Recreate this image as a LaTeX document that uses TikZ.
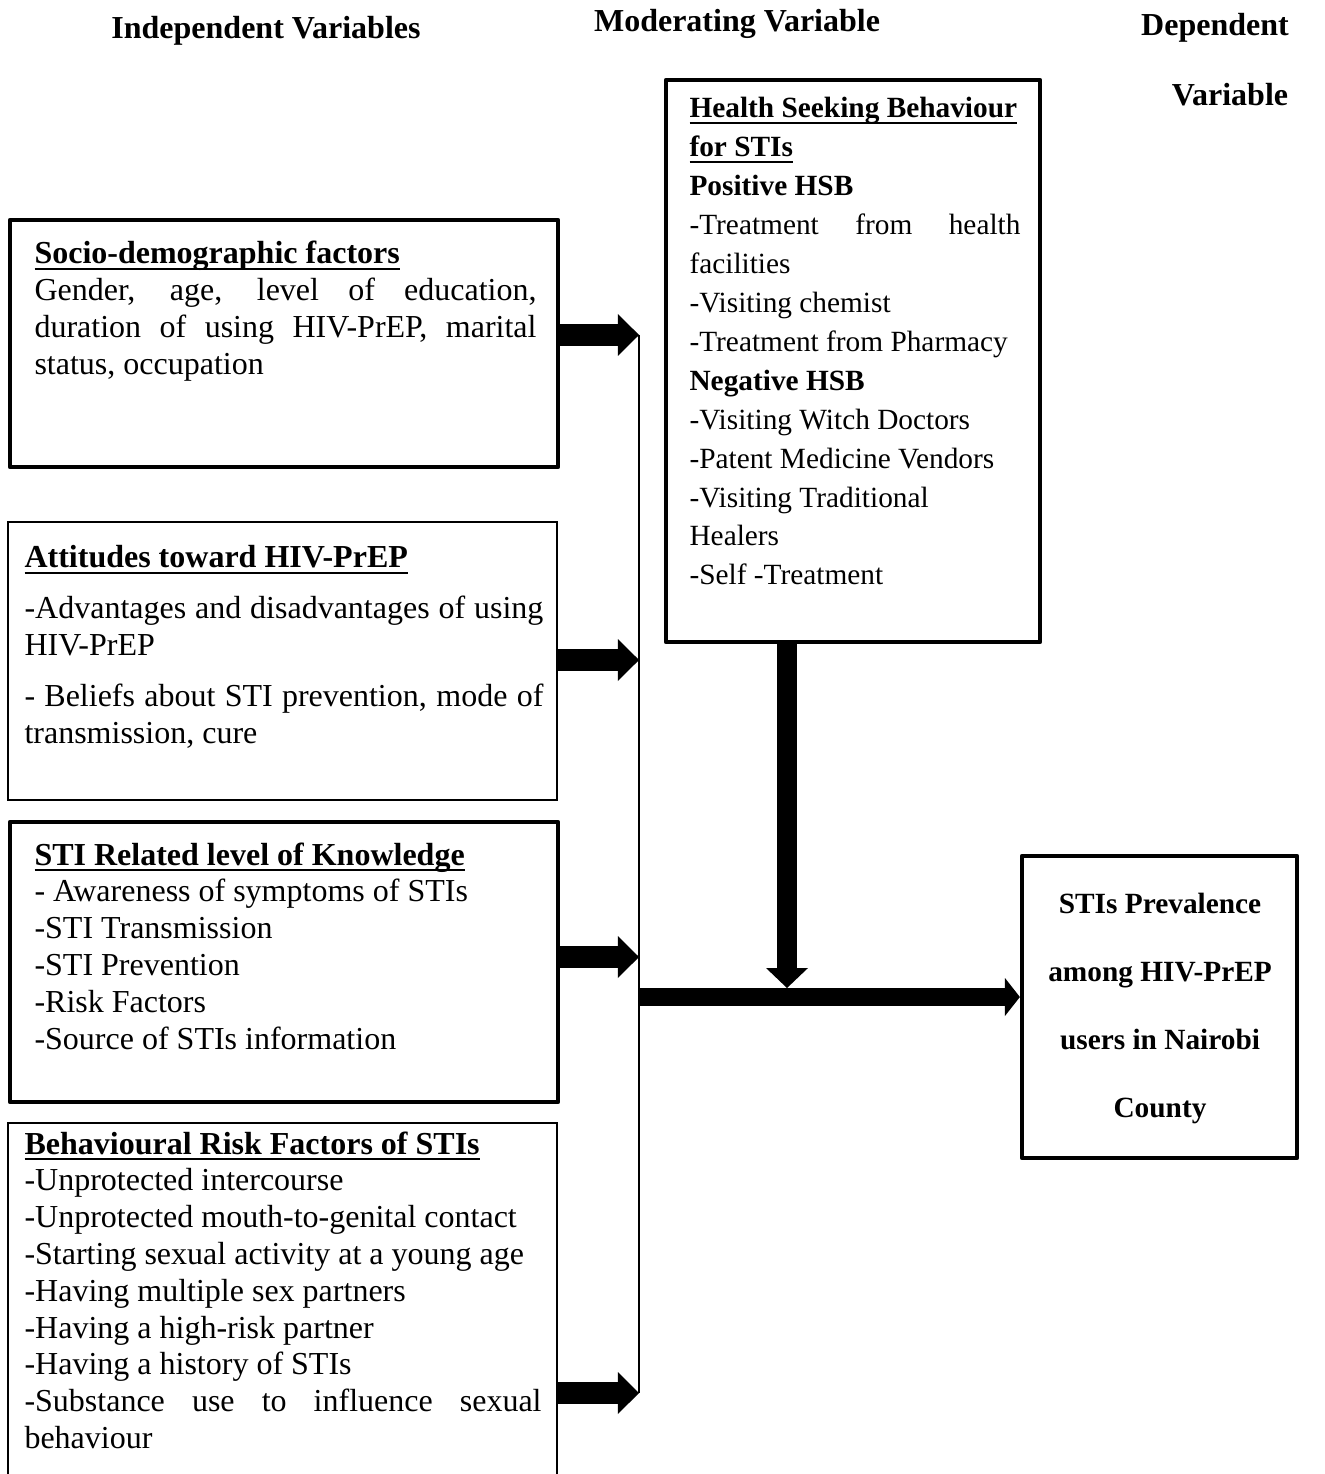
\documentclass[tikz,border=0pt]{standalone}
\usepackage{fontspec}
\setmainfont{Liberation Serif}
\usetikzlibrary{arrows.meta,fit}
\newcommand\ulbf[1]{\leavevmode\setbox0=\hbox{\bfseries #1}\rlap{\rule[-2.4pt]{\wd0}{0.9pt}}\box0}
\newcommand\nsp{\spaceskip=0pt\xspaceskip=0pt\relax}
\begin{document}
\begin{tikzpicture}[x=0.375pt,y=-0.375pt,
  thickbox/.style={draw, line width=1.6pt, line join=round, inner sep=0pt},
  thinbox/.style={draw, line width=0.75pt, inner sep=0pt},
  body/.style={anchor=base west, inner sep=0pt, font=\fontsize{12}{13.8}\selectfont},
  hsbtext/.style={anchor=base west, inner sep=0pt, font=\fontsize{11}{14.59}\selectfont},
  outtext/.style={anchor=base, inner sep=0pt, font=\fontsize{11}{25.5}\selectfont\bfseries},
  head/.style={anchor=base, inner sep=0pt, font=\fontsize{12}{13.8}\selectfont\bfseries},
  feed/.style={line width=8.25pt, -{Triangle[width=15.75pt,length=7.9pt,line width=0pt]}},
  mainarrow/.style={line width=6.75pt, -{Triangle[width=14.25pt,length=5.6pt,line width=0pt]}},
  modarrow/.style={line width=7.5pt, -{Triangle[width=15.75pt,length=7.5pt,line width=0pt]}},
  bus/.style={line width=0.7pt}
]
\useasboundingbox (0,0) rectangle (1324,1474);
\clip (0,0) rectangle (1324,1474);
\fill[white] (0,0) rectangle (1324,1474);

% headings
\node[head] (hiv) at (266,39) {Independent Variables};
\node[head] (hmv) at (737,32) {Moderating Variable};
\node[head] (hdv1) at (1215,36) {Dependent};
\node[head] (hdv2) at (1230,106) {Variable};

% box 1
\node[thickbox, fit={(10,220) (558,467)}] (socio) {};
\node[body, text width=188.25pt] (sociotxt) at (34,264) {\nsp\ulbf{Socio-demographic factors}\\
\makebox[\linewidth][s]{Gender, age, level of education,}\\
\makebox[\linewidth][s]{duration of using HIV-PrEP, marital}\\
status, occupation};

% box 2
\node[thinbox, fit={(8,522) (557,800)}] (att) {};
\node[body, text width=194.6pt] (atttxt) at (24,568) {\nsp\ulbf{Attitudes toward HIV-PrEP}\\[5.3pt]
\makebox[\linewidth][s]{-Advantages and disadvantages of using}\\
HIV-PrEP\\[5.3pt]
\makebox[\linewidth][s]{- Beliefs about STI prevention, mode of}\\
transmission, cure};

% box 3
\node[thickbox, fit={(10,822) (558,1102)}] (know) {};
\node[body, text width=188.25pt] (knowtxt) at (34,865) {\nsp\ulbf{STI Related level of Knowledge}\\
- Awareness of symptoms of STIs\\
-STI Transmission\\
-STI Prevention\\
-Risk Factors\\
-Source of STIs information};

% box 4
\node[thinbox, fit={(8,1123) (557,1530)}] (behav) {};
\node[body, text width=193.9pt] (behavtxt) at (24,1154) {\nsp\ulbf{Behavioural Risk Factors of STIs}\\
-Unprotected intercourse\\
-Unprotected mouth-to-genital contact\\
-Starting sexual activity at a young age\\
-Having multiple sex partners\\
-Having a high-risk partner\\
-Having a history of STIs\\
\makebox[\linewidth][s]{-Substance use to influence sexual}\\
behaviour};

% moderating box
\node[thickbox, fit={(666,80) (1040,642)}] (hsb) {};
\node[hsbtext, text width=124.1pt] (hsbtxt) at (689,118) {\nsp\ulbf{Health Seeking Behaviour}\\
\ulbf{for STIs}\\
\textbf{Positive HSB}\\
\makebox[\linewidth][s]{-Treatment from health}\\
facilities\\
-Visiting chemist\\
-Treatment from Pharmacy\\
\textbf{Negative HSB}\\
-Visiting Witch Doctors\\
-Patent Medicine Vendors\\
-Visiting Traditional\\
Healers\\
-Self -Treatment};

% dependent box
\node[thickbox, fit={(1022,856) (1297,1158)}] (prev) {};
\node[outtext, text width=97.5pt] (prevtxt) at (1160,913) {\nsp\centering STIs Prevalence\\
among HIV-PrEP\\
users in Nairobi\\
County\par};

% connectors
\coordinate (j1) at (639,335);
\coordinate (j2) at (639,660);
\coordinate (j3) at (639,957);
\coordinate (j4) at (639,1393);
\coordinate (jm) at (639,997);
\coordinate (jd) at (787,988);

\draw[bus] (j1) -- (j4);
\draw[feed] (socio.east |- j1) -- (j1);
\draw[feed] (att.east |- j2) -- (j2);
\draw[feed] (know.east |- j3) -- (j3);
\draw[feed] (behav.east |- j4) -- (j4);
\draw[mainarrow] (jm) -- (prev.west |- jm);
\draw[modarrow] (hsb.south -| jd) -- (jd);
\end{tikzpicture}
\end{document}
